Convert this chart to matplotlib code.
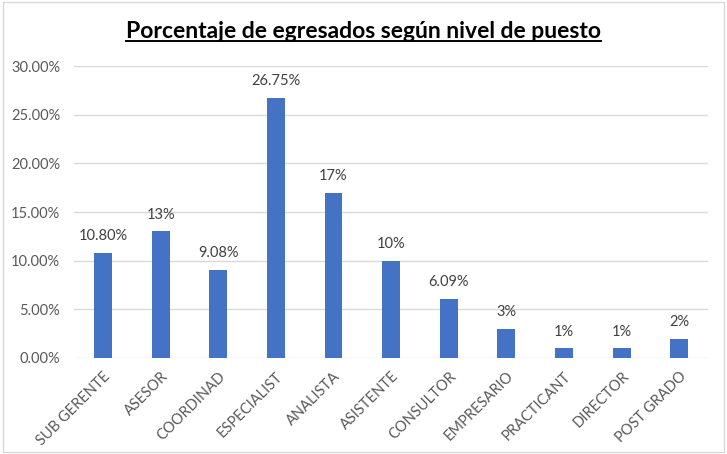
import matplotlib.pyplot as plt
from matplotlib.patches import Rectangle
from matplotlib.ticker import FuncFormatter

puestos = ["SUB GERENTE", "ASESOR", "COORDINAD", "ESPECIALIST", "ANALISTA", "ASISTENTE",
           "CONSULTOR", "EMPRESARIO", "PRACTICANT", "DIRECTOR", "POST GRADO"]
porcentajes = [10.80, 13, 9.08, 26.75, 17, 10, 6.09, 3, 1, 1, 2]
etiquetas = ["10.80%", "13%", "9.08%", "26.75%", "17%", "10%", "6.09%", "3%", "1%", "1%", "2%"]

plt.rcParams['font.family'] = ['Lato', 'DejaVu Sans']

fig = plt.figure(figsize=(7.27, 4.54), dpi=100)
ax = fig.add_axes([0.102, 0.2115, 0.872, 0.643])

x = range(len(puestos))
bars = ax.bar(x, porcentajes, width=0.31, color="#4472C4", zorder=3)
for b, t in zip(bars, etiquetas):
    ax.annotate(t, (b.get_x() + b.get_width() / 2, b.get_height()), xytext=(0, 7),
                textcoords="offset points", ha="center", va="bottom", fontsize=10.5, color="#404040")

ax.set_xlim(-0.5, len(puestos) - 0.5)
ax.set_ylim(0, 30)
ax.set_yticks(range(0, 31, 5))
ax.yaxis.set_major_formatter(FuncFormatter(lambda v, p: f"{v:.2f}%"))
ax.set_xticks(list(x))
ax.set_xticklabels(puestos, rotation=45, ha="right", rotation_mode="anchor")
ax.tick_params(axis="both", length=0, labelsize=10.5, labelcolor="#595959")
ax.tick_params(axis="x", pad=8)
ax.tick_params(axis="y", pad=10)
ax.grid(axis="y", color="#D9D9D9", linewidth=1, zorder=0)
for s in ax.spines.values():
    s.set_visible(False)

title = fig.text(0.5, 0.93, "Porcentaje de egresados según nivel de puesto", ha="center", va="center",
                 fontsize=16.5, fontweight="bold", color="black")
fig.canvas.draw()
bb = title.get_window_extent().transformed(fig.transFigure.inverted())
fig.add_artist(plt.Line2D([bb.x0, bb.x1], [bb.y0 + 0.002, bb.y0 + 0.002], color="black", linewidth=1.4))

fig.add_artist(Rectangle((0.004, 0.004), 0.992, 0.992, transform=fig.transFigure, fill=False,
                         edgecolor="#D9D9D9", linewidth=1))

fig.savefig("out.png", dpi=100)
